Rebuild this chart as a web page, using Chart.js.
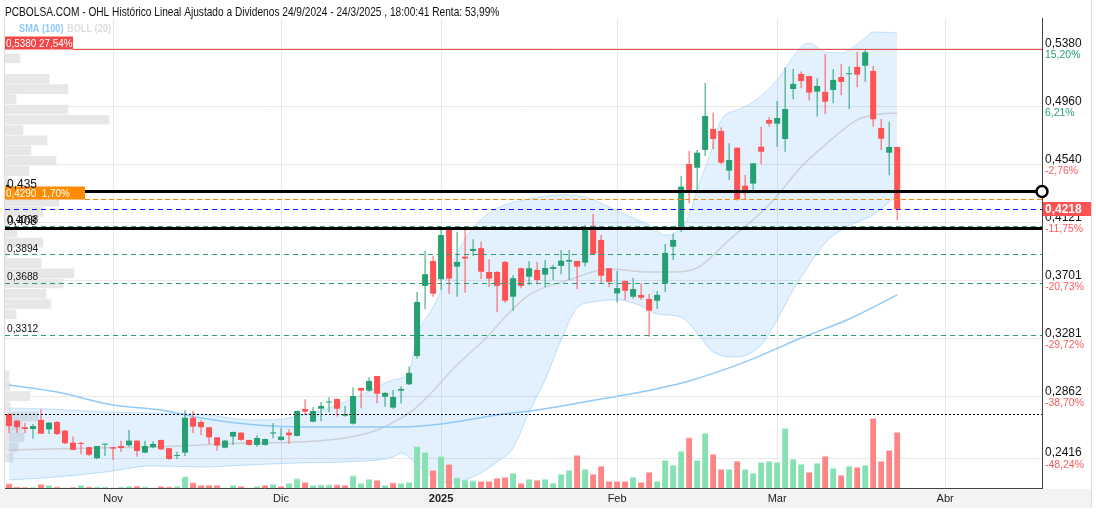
<!DOCTYPE html>
<html>
<head>
<meta charset="utf-8">
<title>OHL Histórico</title>
<script src="https://cdn.jsdelivr.net/npm/chart.js@4/dist/chart.umd.min.js"></script>
<style>
  html, body { margin: 0; padding: 0; background: #fff; }
  canvas { display: block; }
</style>
</head>
<body>
<canvas id="ohlChart" width="1096" height="512"></canvas>
<script>
// sesiones (15/10/2024 - 24/3/2025, mas huecos a futuro)
var dates = [
  '15/10','16/10','17/10','18/10','21/10','22/10','23/10','24/10','25/10','28/10','29/10','30/10','31/10',
  '01/11','04/11','05/11','06/11','07/11','08/11','11/11','12/11','13/11','14/11','15/11','18/11','19/11','20/11','21/11','22/11','25/11','26/11','27/11','28/11','29/11',
  '02/12','03/12','04/12','05/12','06/12','09/12','10/12','11/12','12/12','13/12','16/12','17/12','18/12','19/12','20/12','23/12','24/12','27/12','30/12','31/12',
  '02/01','03/01','06/01','07/01','08/01','09/01','10/01','13/01','14/01','15/01','16/01','17/01','20/01','21/01','22/01','23/01','24/01','27/01','28/01','29/01','30/01','31/01',
  '03/02','04/02','05/02','06/02','07/02','10/02','11/02','12/02','13/02','14/02','17/02','18/02','19/02','20/02','21/02','24/02','25/02','26/02','27/02','28/02',
  '03/03','04/03','05/03','06/03','07/03','10/03','11/03','12/03','13/03','14/03','17/03','18/03','19/03','20/03','21/03','24/03',
  '25/03','26/03','27/03','28/03','31/03','01/04','02/04','03/04','04/04','07/04','08/04','09/04','10/04','11/04','14/04','15/04','16/04','17/04'
];
var monthNames = { '11': 'Nov', '12': 'Dic', '01': '2025', '02': 'Feb', '03': 'Mar', '04': 'Abr' };

var opens = [
  0.2737,0.2689,0.2641,0.2628,0.2694,0.2626,0.2679,0.2616,0.2529,0.2527,0.2496,0.2416,0.2515,
  0.2496,0.2505,0.2510,0.2544,0.2457,0.2496,0.2549,0.2489,0.2433,0.2457,0.2710,0.2679,0.2641,0.2568,0.2493,0.2573,0.2602,0.2549,0.2513,0.2513,0.2596,
  0.2549,0.2602,0.2578,0.2773,0.2681,0.2775,0.2820,0.2846,0.2725,0.2667,0.2925,0.2906,0.3012,0.2862,0.2783,0.2906,0.2952,0.3157,0.3664,0.3845,
  0.3712,0.4069,0.3804,0.3876,0.3917,0.3937,0.3765,0.3765,0.3838,0.3586,0.3792,0.3731,0.3780,0.3746,0.3787,0.3809,0.3840,0.3845,0.3833,0.4100,0.3997,0.3792,
  0.3610,0.3700,0.3586,0.3599,0.3570,0.3557,0.3683,0.3948,0.4082,0.4547,0.4520,0.4649,0.4801,0.4786,0.4499,0.4665,0.4390,0.4405,0.4672,0.4866,
  0.4839,0.4728,0.5090,0.5199,0.5184,0.5071,0.5069,0.5083,0.5177,0.5197,0.5250,0.5259,0.5221,0.4808,0.4629,0.4670
];
var highs = [
  0.2744,0.2694,0.2674,0.2665,0.2771,0.2679,0.2684,0.2621,0.2573,0.2536,0.2500,0.2506,0.2520,
  0.2497,0.2544,0.2621,0.2545,0.2544,0.2539,0.2550,0.2490,0.2464,0.2766,0.2761,0.2694,0.2645,0.2569,0.2549,0.2608,0.2603,0.2550,0.2583,0.2557,0.2670,
  0.2633,0.2626,0.2760,0.2844,0.2786,0.2824,0.2858,0.2847,0.2795,0.2930,0.2926,0.3003,0.3013,0.2896,0.2911,0.2935,0.3080,0.3620,0.3919,0.3881,
  0.4074,0.4077,0.4057,0.4069,0.4002,0.3985,0.3857,0.3772,0.3845,0.3744,0.3796,0.3843,0.3838,0.3852,0.3818,0.3925,0.3925,0.3846,0.4106,0.4185,0.4033,0.3793,
  0.3772,0.3701,0.3722,0.3683,0.3606,0.3628,0.3968,0.4040,0.4460,0.4641,0.4649,0.5136,0.4919,0.4813,0.4697,0.4666,0.4468,0.4554,0.4817,0.4885,
  0.5003,0.5247,0.5235,0.5216,0.5185,0.5168,0.5344,0.5233,0.5271,0.5252,0.5360,0.5380,0.5257,0.4873,0.4851,0.4671
];
var lows = [
  0.2599,0.2599,0.2597,0.2558,0.2592,0.2592,0.2585,0.2520,0.2475,0.2445,0.2433,0.2409,0.2433,
  0.2404,0.2462,0.2500,0.2428,0.2452,0.2489,0.2476,0.2404,0.2409,0.2433,0.2597,0.2583,0.2520,0.2471,0.2489,0.2513,0.2544,0.2508,0.2500,0.2508,0.2561,
  0.2544,0.2520,0.2573,0.2735,0.2677,0.2684,0.2749,0.2718,0.2718,0.2660,0.2778,0.2899,0.2814,0.2790,0.2775,0.2812,0.2947,0.3138,0.3495,0.3586,
  0.3635,0.3608,0.3586,0.3615,0.3881,0.3715,0.3659,0.3476,0.3543,0.3485,0.3647,0.3671,0.3676,0.3654,0.3707,0.3749,0.3707,0.3640,0.3804,0.3895,0.3678,0.3654,
  0.3544,0.3562,0.3573,0.3562,0.3297,0.3497,0.3620,0.3852,0.4055,0.4263,0.4359,0.4605,0.4654,0.4547,0.4431,0.4283,0.4287,0.4345,0.4545,0.4817,
  0.4672,0.4636,0.5016,0.5095,0.5006,0.4890,0.4909,0.4987,0.5045,0.4943,0.5103,0.5143,0.4817,0.4649,0.4465,0.4142
];
var closes = [
  0.2650,0.2641,0.2628,0.2650,0.2594,0.2674,0.2592,0.2525,0.2477,0.2520,0.2442,0.2505,0.2518,
  0.2486,0.2491,0.2544,0.2469,0.2505,0.2520,0.2481,0.2411,0.2435,0.2710,0.2645,0.2641,0.2568,0.2508,0.2544,0.2607,0.2549,0.2513,0.2563,0.2556,0.2599,
  0.2573,0.2583,0.2759,0.2754,0.2759,0.2795,0.2822,0.2775,0.2737,0.2867,0.2906,0.2976,0.2884,0.2889,0.2860,0.2918,0.3034,0.3548,0.3749,0.3608,
  0.4033,0.3717,0.3838,0.3862,0.3932,0.3767,0.3717,0.3664,0.3557,0.3720,0.3664,0.3792,0.3707,0.3794,0.3801,0.3847,0.3852,0.3804,0.4079,0.3896,0.3738,0.3693,
  0.3648,0.3629,0.3642,0.3579,0.3485,0.3599,0.3903,0.3997,0.4383,0.4359,0.4629,0.4895,0.4728,0.4557,0.4576,0.4290,0.4335,0.4552,0.4636,0.4839,
  0.4880,0.4945,0.5127,0.5148,0.5064,0.5112,0.4998,0.5156,0.5141,0.5200,0.5194,0.5356,0.4871,0.4730,0.4670,0.4218
];
// volumen (escala relativa)
var volumes = [
  4.7,1.3,1,1,4,3,1.5,0.5,1,3,1.5,1.5,1.5,
  0.5,1.5,2,2.5,1.5,0.5,2,1.5,2,11.7,5.7,3,3,3,0.5,3,2,0.5,2,3,4.3,
  2,5,9.7,6.3,3,3.7,3.7,3.7,3,12.7,5,9,8.3,3,5.7,5.3,6,42,36,18,
  32,24,10.7,8.7,7.7,7,7,10,11,15,5,9.3,8.3,9.3,5.3,14.3,18.3,33,19,14.3,22.3,7,
  7,7,11,6,16.3,7,28,23.3,37,50.7,28,55,34,19,19,27.3,19,15.3,26.3,27.3,
  26.3,60,29.3,24.3,16.3,25.3,32.3,20.3,13.3,22.3,21.3,23.3,70,27.3,38,56
];

// indicadores (sesion, valor)
var sma100Idx = [0, 6, 13, 19, 24, 31, 37, 49, 54, 61, 66, 74, 79, 85, 92, 99, 105, 111];
var sma100Val = [0.2947,0.2896,0.2802,0.2766,0.2708,0.2657,0.2643,0.2643,0.2665,0.2730,0.2766,0.2846,0.2896,0.2976,0.3114,0.3287,0.3425,0.3599];

var bollMidIdx = [0, 11, 18, 24, 30, 36, 42, 46, 49, 51, 56, 60, 62, 65, 70, 75, 80, 83, 86, 90, 95, 99, 102, 106, 109, 111];
var bollMidVal = [0.2476,0.2491,0.2498,0.2513,0.2527,0.2534,0.2563,0.2621,0.2708,0.2788,0.3092,0.3309,0.3439,0.3599,0.3708,0.3787,0.3765,0.3765,0.3794,0.3997,0.4250,0.4526,0.4685,0.4866,0.4909,0.4917];

var bollUpIdx = [0, 5, 12, 18, 24, 30, 33, 36, 40, 44, 48, 50, 51, 53, 55, 56, 58, 60, 62, 65, 69, 72, 75, 78, 80, 82, 84, 85, 86, 88, 89, 91, 93, 96, 99, 100, 102, 104, 106, 107, 108, 111];
var bollUpVal = [0.2780,0.2773,0.2751,0.2744,0.2737,0.2694,0.2694,0.2722,0.2780,0.2875,0.2983,0.3041,0.3300,0.3511,0.3758,0.3900,0.4084,0.4192,0.4250,0.4294,0.4323,0.4308,0.4236,0.4156,0.4106,0.4033,0.4084,0.4178,0.4359,0.4685,0.4866,0.4938,0.4996,0.5156,0.5394,0.5423,0.5358,0.5351,0.5416,0.5460,0.5503,0.5496];

var bollLowIdx = [0, 6, 12, 18, 24, 30, 36, 42, 48, 49, 51, 53, 55, 58, 61, 63, 65, 67, 69, 71, 73, 76, 79, 81, 84, 86, 88, 91, 94, 96, 98, 100, 102, 104, 106, 108, 111];
var bollLowVal = [0.2259,0.2281,0.2317,0.2361,0.2353,0.2368,0.2382,0.2390,0.2426,0.2454,0.2368,0.2274,0.2237,0.2281,0.2390,0.2491,0.2751,0.2984,0.3273,0.3505,0.3548,0.3563,0.3519,0.3461,0.3439,0.3323,0.3186,0.3150,0.3237,0.3418,0.3635,0.3816,0.3975,0.4070,0.4127,0.4178,0.4323];

// perfil de volumen por precio
var profilePrices = [0.5344,0.5270,0.5196,0.5122,0.5048,0.4974,0.4900,0.4825,0.4751,0.4677,0.4603,0.4529,0.4455,0.4381,0.4307,0.4233,0.4158,0.4084,0.4010,0.3936,
  0.3862,0.3788,0.3714,0.3640,0.3566,0.3491,0.3417,0.3343,0.3269,0.3195,0.3121,0.3047,0.2973,0.2899,0.2825,0.2751,0.2677,0.2602,0.2528,0.2454];
var profileVolumes = [15,0,44,63,11,63,104,18,42,26,51,24,4,38,54,38,3,12,38,2,
  36,69,58,41,46,11,0,0,0,0,0,4,5,25,5,33,17,19,13,8];

// escala de precios
var yTicks = [0.5380, 0.4960, 0.4540, 0.4121, 0.3701, 0.3281, 0.2862, 0.2416];
var yTickPct = ['15,20%', '6,21%', '-2,76%', '-11,75%', '-20,73%', '-29,72%', '-38,70%', '-48,24%'];

// niveles dibujados
var levelPrices = [0.538, 0.435, 0.429, 0.4218, 0.4098, 0.408, 0.3894, 0.3688, 0.3312, 0.2737];
var levelBoxText = { 0: '0,5380 27,54%', 2: '0,4290  1,70%' };

var GREEN = '#26a072', RED = '#ff5252';
var VGREEN = '#86e0b2', VRED = '#ff8484';
var DGREEN = '#2a9d6f';
var FONT = '"Liberation Sans", Arial, sans-serif';

var levelStyles = [
  { color: '#f04848', width: 1, dash: [], box: 68 },
  { color: '#000', width: 3, dash: [], text: true, circle: true },
  { color: '#ff8c00', width: 1, dash: [5, 3], box: 80 },
  { color: '#1010ff', width: 1, dash: [5, 4] },
  { color: DGREEN, width: 1, dash: [5, 4], text: true },
  { color: '#000', width: 3, dash: [], text: true },
  { color: DGREEN, width: 1, dash: [5, 4], text: true },
  { color: DGREEN, width: 1, dash: [5, 4], text: true },
  { color: DGREEN, width: 1, dash: [5, 4], text: true },
  { color: '#000', width: 1, dash: [2, 2] }
];

function fmt(v, d) { return v.toFixed(d).replace('.', ','); }
function pts(ix, vals) { return ix.map(function (x, k) { return { x: x, y: vals[k] }; }); }
// texto algo estrecho, como el original
function narrowText(c, txt, x, y, sx) {
  c.save();
  c.translate(x, y);
  c.scale(sx, 1);
  c.fillText(txt, 0, 0);
  c.restore();
}

var candleColors = opens.map(function (o, i) { return closes[i] >= o ? GREEN : RED; });
var volUp = closes.map(function (c, i) { return c >= (i ? closes[i - 1] : opens[i]); });
var volColors = volUp.map(function (u) { return u ? VGREEN : VRED; });
var volCaps = volUp.map(function (u) { return u ? '#c2f0d8' : '#ffc2c2'; });

var overlay = {
  id: 'overlay',
  beforeDraw: function (chart) {
    var c = chart.ctx, a = chart.chartArea;
    c.save();
    c.fillStyle = '#f3f3f3';
    c.fillRect(0, a.bottom + 1, 1091, 19);
    c.strokeStyle = '#dddddd';
    c.lineWidth = 1;
    c.beginPath();
    c.moveTo(1091.5, 0); c.lineTo(1091.5, a.bottom + 20);
    c.moveTo(a.left - 0.5, a.top); c.lineTo(a.left - 0.5, a.bottom);
    c.stroke();
    c.restore();
  },
  afterDatasetsDraw: function (chart) {
    var c = chart.ctx, a = chart.chartArea, ys = chart.scales.y;
    c.save();
    c.textBaseline = 'alphabetic';
    levelPrices.forEach(function (p, k) {
      var st = levelStyles[k];
      var py = Math.round(ys.getPixelForValue(p)) + 0.5;
      var x0 = a.left;
      if (st.box) {
        c.fillStyle = st.color;
        c.fillRect(a.left, py - 13, st.box, 13);
        c.fillStyle = '#fff';
        c.font = '11px ' + FONT;
        narrowText(c, levelBoxText[k], a.left + 1, py - 2.5, 0.9);
        x0 = a.left + st.box;
      }
      c.strokeStyle = st.color;
      c.lineWidth = st.width;
      c.setLineDash(st.dash);
      c.beginPath();
      c.moveTo(x0, py);
      c.lineTo(a.right, py);
      c.stroke();
      c.setLineDash([]);
      if (st.circle) {
        c.lineWidth = 2.5;
        c.fillStyle = '#fff';
        c.beginPath(); c.arc(a.right, py, 5.5, 0, Math.PI * 2); c.fill(); c.stroke();
        c.beginPath(); c.arc(a.left + 1, py, 5.5, -Math.PI / 2, Math.PI / 2); c.stroke();
      }
    });
    levelPrices.forEach(function (p, k) {
      var st = levelStyles[k];
      if (!st.text) return;
      var py = ys.getPixelForValue(p);
      c.fillStyle = '#111';
      c.font = (st.width > 1 ? '12px ' : '11px ') + FONT;
      narrowText(c, String(p).replace('.', ','), a.left + 2, py - (st.width > 1 ? 3 : 2.5), st.width > 1 ? 1 : 0.93);
    });
    c.restore();
  },
  afterDraw: function (chart) {
    var c = chart.ctx, a = chart.chartArea, ys = chart.scales.y;
    c.save();
    c.fillStyle = '#111';
    c.textBaseline = 'alphabetic';
    c.font = '13px ' + FONT;
    narrowText(c, 'PCBOLSA.COM - OHL Histórico Lineal Ajustado a Dividenos 24/9/2024 - 24/3/2025 , 18:00:41 Renta: 53,99%', 5, 16, 0.78);
    c.font = 'bold 10px ' + FONT;
    c.fillStyle = '#90caf9';
    narrowText(c, 'SMA (100)', 19, 32, 0.92);
    c.fillStyle = '#dddddd';
    narrowText(c, 'BOLL (20)', 67, 32, 0.92);
    // porcentajes del eje
    c.font = '11px ' + FONT;
    c.textBaseline = 'middle';
    yTicks.forEach(function (v, k) {
      c.fillStyle = yTickPct[k].charAt(0) === '-' ? '#ff5a5a' : '#26a17b';
      narrowText(c, yTickPct[k], a.right + 3, ys.getPixelForValue(v) + 6.5, 0.95);
    });
    // ultimo precio
    var last = closes[closes.length - 1];
    var py = Math.round(ys.getPixelForValue(last));
    c.fillStyle = RED;
    c.fillRect(a.right + 1, py - 7, 48, 14);
    c.fillStyle = '#fff';
    c.font = 'bold 12px ' + FONT;
    c.fillText(fmt(last, 4), a.right + 3, py + 0.5);
    c.restore();
  }
};

Chart.defaults.font.family = FONT;

var ctx = document.getElementById('ohlChart').getContext('2d');
var myChart = new Chart(ctx, {
  type: 'bar',
  data: {
    datasets: [
      {
        type: 'bar', label: 'Mechas',
        data: highs.map(function (h, i) { return { x: i, y: [lows[i], h] }; }),
        backgroundColor: candleColors, grouped: false, maxBarThickness: 1,
        categoryPercentage: 1, barPercentage: 0.5, minBarLength: 1, order: 3
      },
      {
        type: 'bar', label: 'OHL',
        data: opens.map(function (o, i) { return { x: i, y: [o, closes[i]] }; }),
        backgroundColor: candleColors, grouped: false,
        categoryPercentage: 1, barPercentage: 0.75, minBarLength: 1, order: 2
      },
      {
        type: 'bar', label: 'Volumen', yAxisID: 'yv',
        data: volumes.map(function (v, i) { return { x: i, y: v }; }),
        backgroundColor: volColors, borderColor: volCaps,
        borderWidth: { top: 1, left: 0, right: 0, bottom: 0 }, borderSkipped: 'start',
        grouped: false, categoryPercentage: 1, barPercentage: 0.75, order: 4
      },
      {
        type: 'line', label: 'SMA (100)', data: pts(sma100Idx, sma100Val),
        borderColor: '#90caf9', borderWidth: 1.5, pointRadius: 0,
        cubicInterpolationMode: 'monotone', fill: false, order: 5
      },
      {
        type: 'line', label: 'BOLL sup', data: pts(bollUpIdx, bollUpVal),
        borderColor: 'rgba(160,208,248,0.6)', borderWidth: 1, pointRadius: 0,
        backgroundColor: 'rgba(33,150,243,0.13)', fill: '+1',
        cubicInterpolationMode: 'monotone', order: 7
      },
      {
        type: 'line', label: 'BOLL inf', data: pts(bollLowIdx, bollLowVal),
        borderColor: 'rgba(160,208,248,0.6)', borderWidth: 1, pointRadius: 0,
        fill: false, cubicInterpolationMode: 'monotone', order: 7
      },
      {
        type: 'line', label: 'BOLL (20)', data: pts(bollMidIdx, bollMidVal),
        borderColor: 'rgba(195,195,195,0.7)', borderWidth: 1.5, pointRadius: 0,
        fill: false, cubicInterpolationMode: 'monotone', order: 6
      },
      {
        type: 'bar', label: 'Perfil', indexAxis: 'y', xAxisID: 'xp', yAxisID: 'y',
        data: profilePrices.map(function (p, k) { return { x: profileVolumes[k], y: p }; }),
        backgroundColor: '#e7e7e7', barThickness: 9, order: 9
      }
    ]
  },
  options: {
    responsive: false,
    animation: false,
    layout: { padding: { top: 18, left: 5, right: 0, bottom: 0 } },
    plugins: { legend: { display: false }, tooltip: { enabled: false }, title: { display: false } },
    scales: {
      x: {
        type: 'linear', offset: false,
        min: -0.5, max: dates.length - 0.9,
        afterBuildTicks: function (scale) {
          var t = [];
          dates.forEach(function (d, i) {
            if (i > 0 && d.slice(3) !== dates[i - 1].slice(3)) t.push({ value: i });
          });
          scale.ticks = t;
        },
        afterFit: function (scale) { scale.height = 24; },
        ticks: {
          autoSkip: false, maxRotation: 0, padding: 4, color: '#222',
          callback: function (v) { return monthNames[dates[v].slice(3)]; },
          font: function (c) {
            return { size: 11, weight: c.tick && c.tick.label === '2025' ? 'bold' : 'normal' };
          }
        },
        grid: { color: '#e8e8e8', offset: false, drawTicks: false },
        border: { color: '#444' }
      },
      y: {
        type: 'linear', position: 'right', offset: false,
        min: 0.2201, max: 0.5604,
        afterBuildTicks: function (scale) {
          scale.ticks = yTicks.map(function (v) { return { value: v }; });
        },
        afterFit: function (scale) { scale.width = 54; },
        ticks: {
          padding: 3, labelOffset: -5.5, color: '#111',
          callback: function (v) { return fmt(v, 4); }
        },
        grid: { color: '#e8e8e8', offset: false, drawTicks: false },
        border: { color: '#444' }
      },
      yv: { type: 'linear', display: false, offset: false, min: 0, max: 470 },
      xp: { type: 'linear', display: false, offset: false, min: 0, max: 1037 }
    }
  },
  plugins: [overlay]
});
</script>
</body>
</html>
